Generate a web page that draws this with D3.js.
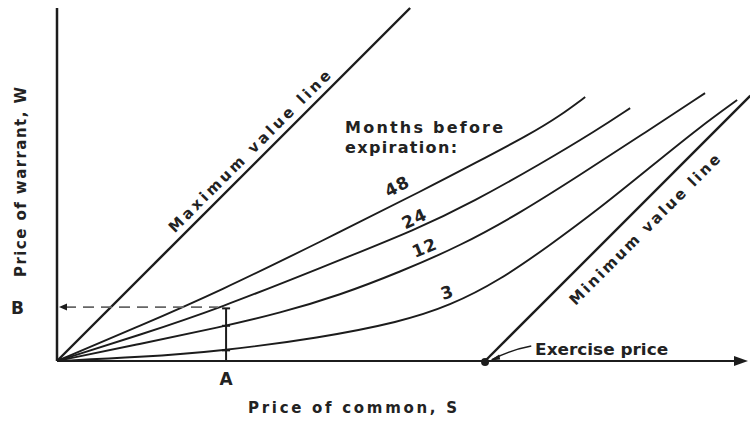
<!DOCTYPE html>
<html>
<head>
<meta charset="utf-8">
<script src="https://cdn.jsdelivr.net/npm/d3@7"></script>
<style>
  body { margin: 0; background: #fff; }
  text { font-family: "DejaVu Sans", sans-serif; font-weight: bold; fill: #222; }
</style>
</head>
<body>
<svg id="chart" width="750" height="427"></svg>
<script>
// price of common S (x) and price of warrant W (y), exercise price = 100
const exercisePrice = 100;
const sMax = 160.5;
const wMax = 82.5;

const months = ["48", "24", "12", "3"];
const curve48 = [[0, 0], [19.4, 8.2], [38.1, 16.4], [61.4, 27.8], [87.1, 40.7], [97.2, 46.0],
  [110.5, 53.0], [117.5, 57.3], [123.4, 61.7]];
const curve24 = [[0, 0], [19.4, 6.1], [38.1, 12.4], [61.4, 21.7], [84.8, 31.1], [97.2, 37.2],
  [112.9, 46.0], [126.2, 54.0], [133.9, 59.1]];
const curve12 = [[0, 0], [19.4, 4.0], [38.1, 7.9], [52.1, 11.2], [66.1, 15.4], [80.1, 20.8],
  [94.2, 26.9], [108.2, 34.6], [122.2, 43.5], [136.2, 52.6], [151.4, 62.6]];
const curve3 = [[0, 0], [19.4, 0.9], [38.1, 2.3], [61.4, 5.4], [80.1, 9.1], [91.8, 12.9],
  [103.5, 18.9], [115.2, 27.1], [126.9, 35.8], [138.6, 45.3], [150.2, 54.7], [158.9, 61.0]];
const curves = [curve48, curve24, curve12, curve3];

const maxLine = [[0, 0], [82.5, 82.5]];
const minLine = [[exercisePrice, 0], [162, 62]];

// point A on the S axis, B is the 24-month value there
const pointA = 39.5;
const pointB = 12.6;

const svg = d3.select("#chart");
const x = d3.scaleLinear().domain([0, sMax]).range([57, 744]);
const y = d3.scaleLinear().domain([0, wMax]).range([361, 8]);

const straight = d3.line()
  .x(d => x(d[0]))
  .y(d => y(d[1]));
const smooth = d3.line()
  .x(d => x(d[0]))
  .y(d => y(d[1]))
  .curve(d3.curveBasis);

const ink = "#1c1c1c";

// axes
svg.append("line")
  .attr("x1", x(0)).attr("y1", y(0))
  .attr("x2", x(0)).attr("y2", y(wMax))
  .attr("stroke", ink).attr("stroke-width", 2.5);
svg.append("line")
  .attr("x1", x(0)).attr("y1", y(0))
  .attr("x2", x(sMax) - 4).attr("y2", y(0))
  .attr("stroke", ink).attr("stroke-width", 2.2);
svg.append("path")
  .attr("d", `M${x(sMax) + 4},${y(0)} l-14,-5 l0,10 z`)
  .attr("fill", ink);

// max / min value lines
svg.append("path").datum(maxLine)
  .attr("d", straight).attr("fill", "none")
  .attr("stroke", ink).attr("stroke-width", 2.4);
svg.append("path").datum(minLine)
  .attr("d", straight).attr("fill", "none")
  .attr("stroke", ink).attr("stroke-width", 2.4);

// warrant curves
svg.append("g")
  .selectAll("path")
  .data(curves)
  .enter()
  .append("path")
  .attr("d", smooth)
  .attr("fill", "none")
  .attr("stroke", ink)
  .attr("stroke-width", 1.9);

// dashed line to B
svg.append("line")
  .attr("x1", x(0) + 8).attr("y1", y(pointB))
  .attr("x2", x(pointA) - 8).attr("y2", y(pointB))
  .attr("stroke", "#666").attr("stroke-width", 1.8)
  .attr("stroke-dasharray", "11,7");
svg.append("path")
  .attr("d", `M${x(0) + 2},${y(pointB)} l8,-3.5 l0,7 z`)
  .attr("fill", ink);

// vertical from A with cross marks on the curves
const wAt = (c, s) => {
  const i = d3.bisector(d => d[0]).left(c, s);
  const a = c[i - 1], b = c[i];
  return a[1] + (b[1] - a[1]) * (s - a[0]) / (b[0] - a[0]);
};
svg.append("line")
  .attr("x1", x(pointA)).attr("y1", y(0))
  .attr("x2", x(pointA)).attr("y2", y(pointB) + 1)
  .attr("stroke", ink).attr("stroke-width", 2);
svg.append("g")
  .selectAll("line")
  .data([pointB - 0.3, wAt(curve12, pointA), wAt(curve3, pointA)])
  .enter()
  .append("line")
  .attr("x1", x(pointA) - 4).attr("x2", x(pointA) + 4)
  .attr("y1", d => y(d)).attr("y2", d => y(d))
  .attr("stroke", ink).attr("stroke-width", 2);

// exercise price point
svg.append("circle")
  .attr("cx", x(exercisePrice)).attr("cy", y(0) + 1)
  .attr("r", 4).attr("fill", ink);
svg.append("path")
  .attr("d", `M${x(110.8)},${y(3.5)} Q${x(106)},${y(2.6)} ${x(101.6)},${y(0.3)}`)
  .attr("fill", "none").attr("stroke", ink).attr("stroke-width", 1.5);
svg.append("path")
  .attr("d", `M${x(101.2)},${y(0.1)} l9,-6 l1,5 z`)
  .attr("fill", ink);
svg.append("text")
  .attr("x", x(111.7)).attr("y", y(1.4))
  .attr("font-size", 16)
  .attr("textLength", 133).attr("lengthAdjust", "spacingAndGlyphs")
  .text("Exercise price");

// axis titles and letters
svg.append("text")
  .attr("transform", "translate(26,182) rotate(-90)")
  .attr("text-anchor", "middle")
  .attr("font-size", 15)
  .attr("textLength", 190).attr("lengthAdjust", "spacing")
  .text("Price of warrant, W");
svg.append("text")
  .attr("x", 248).attr("y", 413)
  .attr("font-size", 15)
  .attr("textLength", 209).attr("lengthAdjust", "spacing")
  .text("Price of common, S");
svg.append("text")
  .attr("x", x(0) - 46).attr("y", y(pointB) + 7)
  .attr("font-size", 17)
  .text("B");
svg.append("text")
  .attr("x", x(pointA)).attr("y", y(0) + 24)
  .attr("text-anchor", "middle")
  .attr("font-size", 17)
  .text("A");

// legend title
svg.append("text")
  .attr("x", x(67.3)).attr("y", y(53.3))
  .attr("font-size", 16)
  .attr("textLength", 158).attr("lengthAdjust", "spacing")
  .text("Months before");
svg.append("text")
  .attr("x", x(67.3)).attr("y", y(48.6))
  .attr("font-size", 16)
  .attr("textLength", 112).attr("lengthAdjust", "spacing")
  .text("expiration:");

// curve labels
const labelSpots = [[80.1, 39.6, -27], [84.1, 32.0, -25], [86.4, 25.2, -22], [91.6, 14.7, -18]];
svg.append("g")
  .selectAll("text")
  .data(months)
  .enter()
  .append("text")
  .attr("transform", (d, i) => {
    const p = labelSpots[i];
    return `translate(${x(p[0])},${y(p[1])}) rotate(${p[2]})`;
  })
  .attr("text-anchor", "middle")
  .attr("font-size", 17)
  .attr("letter-spacing", 1)
  .text(d => d);

// labels along the value lines
svg.append("text")
  .attr("transform", `translate(${x(47)},${y(47)}) rotate(-45)`)
  .attr("text-anchor", "middle")
  .attr("dy", -7)
  .attr("font-size", 15)
  .attr("textLength", 222).attr("lengthAdjust", "spacing")
  .text("Maximum value line");
svg.append("text")
  .attr("transform", `translate(${x(134)},${y(134 - exercisePrice)}) rotate(-45)`)
  .attr("text-anchor", "middle")
  .attr("dy", 25)
  .attr("font-size", 15)
  .attr("textLength", 206).attr("lengthAdjust", "spacing")
  .text("Minimum value line");
</script>
</body>
</html>
